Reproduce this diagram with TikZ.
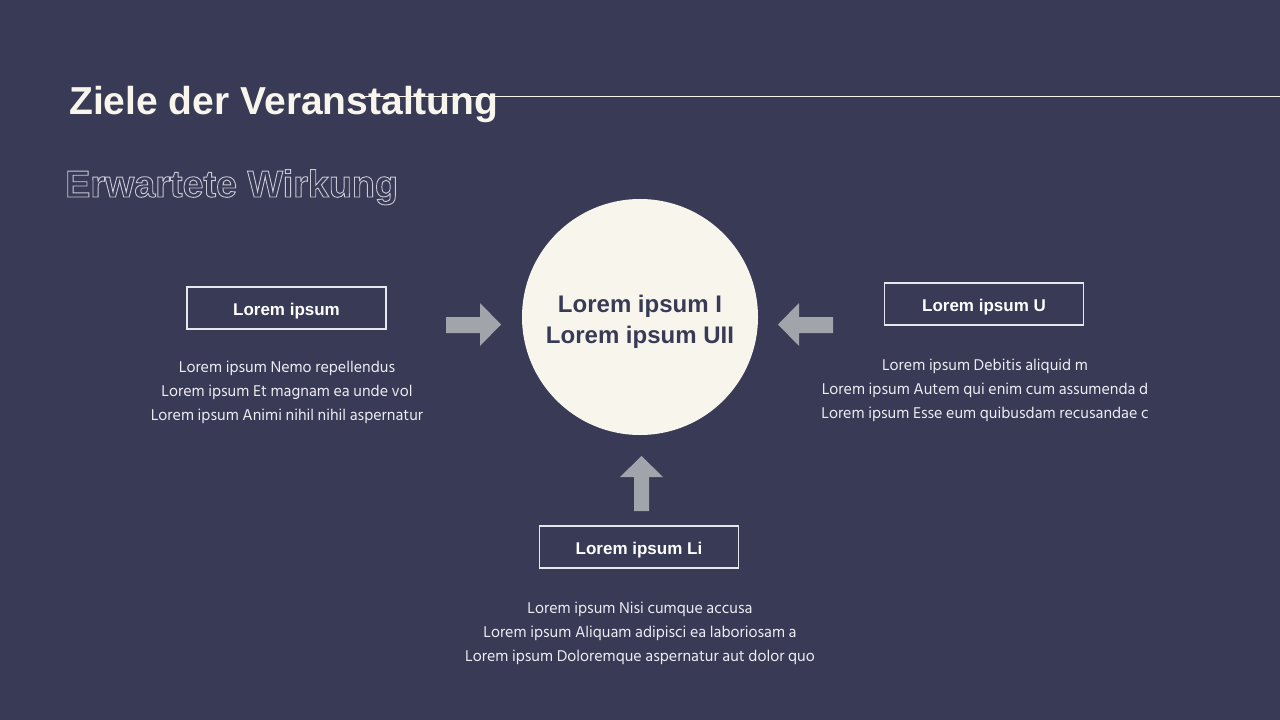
\documentclass[tikz,border=0pt]{standalone}
\usepackage{fontspec}
\newfontfamily\headfont{Liberation Sans}
\newfontfamily\bodyfont{Hind Siliguri}
\definecolor{bg}{HTML}{383A56}
\definecolor{cream}{HTML}{F8F5EC}
\definecolor{boxline}{HTML}{E6E6EE}
\definecolor{arrowgray}{HTML}{A2A4AC}
\definecolor{outl}{HTML}{C9CAD8}
\definecolor{desc}{HTML}{ECECF2}
\begin{document}
\begin{tikzpicture}[x=1pt,y=-1pt,
  labelbox/.style={draw=boxline,line width=1.2pt,minimum width=199pt,minimum height=42pt,
    inner sep=0pt,text height=15.8pt,text depth=0pt,text=white,font=\headfont\bfseries\fontsize{17}{20}\selectfont},
  desctext/.style={text=desc,align=center,inner sep=0pt,
    font=\bodyfont\fontsize{16}{24}\selectfont},
  blockarrow/.style={fill=arrowgray,draw=none}]
\fill[bg] (0,0) rectangle (1280,720);
\useasboundingbox (0,0) rectangle (1280,720);
% header line
\coordinate (ls) at (360,96);
\coordinate (le) at (1280,96);
\draw[cream,line width=1pt] (ls) -- (le);
\node[anchor=base west,inner sep=0pt,text=cream,font=\headfont\bfseries\fontsize{39}{44}\selectfont]
  (title) at (69,114) {Ziele der Veranstaltung};
% outlined subtitle
\node[anchor=base west,inner sep=0pt,font=\headfont\bfseries\fontsize{37.7}{42}\selectfont]
  (sub) at (65,197) {\color{outl}\special{pdf:literal direct 1 Tr 0.9 w}Erwartete Wirkung\special{pdf:literal direct 0 Tr}};
% center circle
\node[circle,fill=cream,minimum size=236pt,inner sep=0pt] (center) at (640,317) {};
\node[align=center,text=bg,inner sep=0pt,
  font=\headfont\bfseries\fontsize{24}{31}\selectfont] (ctext) at (640,322)
  {Lorem ipsum I\\Lorem ipsum UII};
% boxes
\node[labelbox] (left) at (286.5,308) {Lorem ipsum};
\node[labelbox] (right) at (984,304) {Lorem ipsum U};
\node[labelbox] (bottom) at (639,547) {Lorem ipsum Li};
% descriptions
\node[desctext,anchor=north] (ldesc) at (287,361)
  {Lorem ipsum Nemo repellendus\\Lorem ipsum Et magnam ea unde vol\\Lorem ipsum Animi nihil nihil aspernatur};
\node[desctext,anchor=north] (rdesc) at (985,359)
  {Lorem ipsum Debitis aliquid m\\Lorem ipsum Autem qui enim cum assumenda d\\Lorem ipsum Esse eum quibusdam recusandae c};
\node[desctext,anchor=north] (bdesc) at (640,602)
  {Lorem ipsum Nisi cumque accusa\\Lorem ipsum Aliquam adipisci ea laboriosam a\\Lorem ipsum Doloremque aspernatur aut dolor quo};
% block arrows
\fill[blockarrow] (446,317) -- (480,317) -- (480,303) -- (501,324.5) -- (480,346) -- (480,333) -- (446,333) -- cycle;
\fill[blockarrow] (833,317) -- (799,317) -- (799,303) -- (778,324.5) -- (799,346) -- (799,333) -- (833,333) -- cycle;
\fill[blockarrow] (634,511) -- (634,477) -- (620,477) -- (641.5,456) -- (663,477) -- (649,477) -- (649,511) -- cycle;
\end{tikzpicture}
\end{document}
